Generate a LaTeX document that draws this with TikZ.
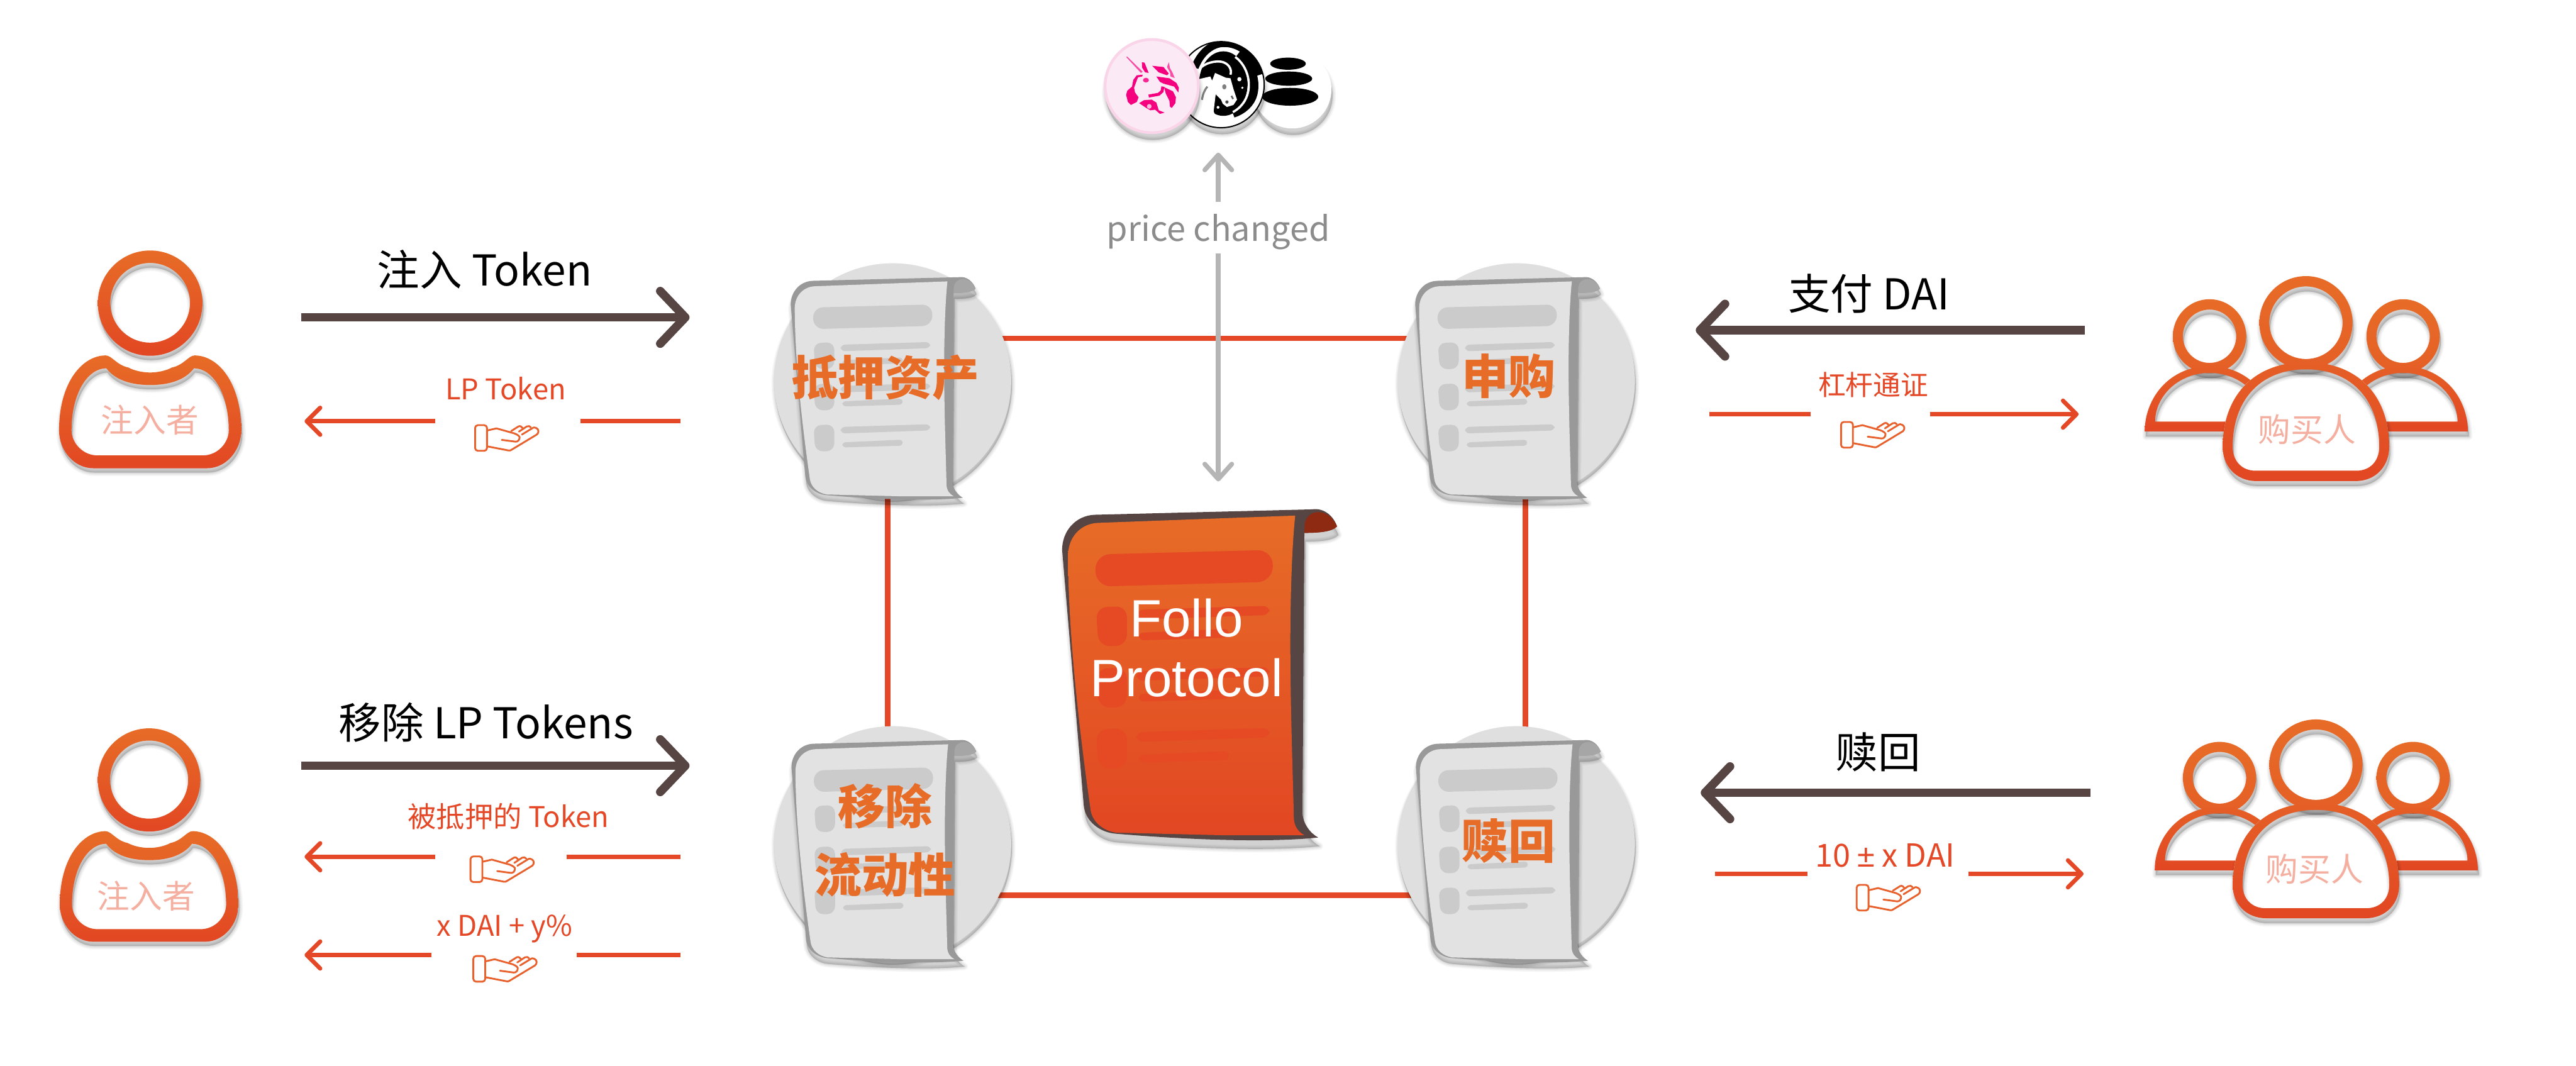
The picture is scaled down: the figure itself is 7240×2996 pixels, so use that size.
\documentclass[tikz,border=0pt]{standalone}
\usepackage{fontspec}
\usetikzlibrary{arrows.meta}
\newfontfamily\cj{Noto Sans CJK SC}
\newfontfamily\lat{Liberation Sans}
\definecolor{orT}{HTML}{E76C27}
\definecolor{orM}{HTML}{E55F26}
\definecolor{orB}{HTML}{E24723}
\definecolor{dark}{HTML}{564543}
\definecolor{lineR}{HTML}{E44826}
\definecolor{handC}{HTML}{E8602B}
\definecolor{pale}{HTML}{F5AFA0}
\definecolor{grayA}{HTML}{B5B5B5}
\definecolor{grayT}{HTML}{8C8C8C}
\definecolor{uniP}{HTML}{F5007F}
\definecolor{uniB}{HTML}{FBEAF5}
\definecolor{uniR}{HTML}{FAD4E8}
\tikzset{
  bigarrow/.style={draw=dark,line width=3.41pt,-{Straight Barb[length=10pt,width=21pt,round]}},
  thinarrow/.style={draw=lineR,line width=1.7pt,-{Straight Barb[length=5.4pt,width=10.8pt,round]}},
  thinseg/.style={draw=lineR,line width=1.7pt},
  grayarrow/.style={draw=grayA,line width=1.85pt,-{Straight Barb[length=6pt,width=10.8pt,round]}},
  link/.style={draw=lineR,line width=2.1pt},
  gaptext/.style={inner sep=0pt,outer sep=0pt},
  bigtx/.style={text=black,inner sep=0pt,font=\cj\fontsize{17}{20}\selectfont},
  smalltx/.style={text=lineR,inner sep=0pt,font=\cj\fontsize{11.4}{14}\selectfont},
  whotx/.style={text=pale,inner sep=0pt,font=\cj\fontsize{13}{16}\selectfont},
  doctx/.style={text=orT,inner sep=0pt,font=\cj\bfseries\fontsize{18.8}{22}\selectfont},
}
\newcommand\softshadow[3]{%
  \begin{scope}[shift={(#1,#2)}]
    \foreach \w/\o in {20/.035,14/.04,8/.05,2/.06}{%
      \path[even odd rule,draw=black,fill=black,line join=round,line width=\w*0.05mm,draw opacity=\o,fill opacity=\o] #3;}
  \end{scope}}
\newcommand\gapnode[4]{\node[gaptext,minimum height=0pt,minimum width=#3*0.05mm] (#1) at (#2,#4) {};}
% hand icon
\newcommand\handicon[2]{%
  \begin{scope}[shift={(#1,#2)},draw=handC,line width=.72pt,line cap=round,line join=round]
    \draw[rounded corners=1.1pt] (-87.7,-36) rectangle (-54.3,36);
    \draw (-52.7,-21.3) -- (-27.7,-27) -- (22.3,-13) .. controls (33,-9) and (38,-4) .. (37.3,-1.3)
       .. controls (37,6) and (32,11) .. (25.7,10.3) -- (-12.7,5.3);
    \draw (-52.7,23.7) -- (6,35) .. controls (9,35.8) and (12,35) .. (14,33.5) -- (85.7,-9.7)
       .. controls (92,-14) and (92,-25) .. (84,-28) .. controls (80,-30) and (77,-30) .. (75.7,-29) -- (44,-9.7);
    \draw (14,-19.7) -- (34,-32.3) .. controls (39,-35) and (43,-32) .. (45.7,-28);
    \draw (35.7,-18) -- (57.3,-32.3) .. controls (62,-35) and (67,-33) .. (69,-29.7);
  \end{scope}}
% single person
\newcommand\personfig[3]{%
  \begin{scope}[shift={(#1,#2)},scale=#3]
    \softshadow{3}{12}{(0,148) ellipse [x radius=147,y radius=148] (0,148) ellipse [x radius=112,y radius=112]}
    \shade[top color=orT,bottom color=orB,even odd rule] (0,148) ellipse [x radius=147,y radius=148] (0,147) ellipse [x radius=112,y radius=112];
    \def\bodyouter{(-125,295) .. controls (-108,295) and (-95,322) .. (-61,329) .. controls (-45,338) and (-20,343) .. (0,343) .. controls (20,343) and (45,338) .. (61,329) .. controls (95,322) and (108,295) .. (125,295) .. controls (190,295) and (256,370) .. (256,506) .. controls (256,560) and (215,612) .. (160,612) -- (-160,612) .. controls (-215,612) and (-256,560) .. (-256,506) .. controls (-256,370) and (-190,295) .. (-125,295) -- cycle}
    \def\bodyinner{(-123,331) .. controls (-105,355) and (-70,378) .. (0,378) .. controls (70,378) and (105,355) .. (123,331) .. controls (175,331) and (221,400) .. (221,506) .. controls (221,540) and (190,576) .. (148,576) -- (-148,576) .. controls (-190,576) and (-221,540) .. (-221,506) .. controls (-221,400) and (-175,331) .. (-123,331) -- cycle}
    \softshadow{3}{12}{\bodyouter \bodyinner}
    \shade[top color=orT,bottom color=orB,even odd rule] \bodyouter \bodyinner;
  \end{scope}}
% group of buyers
\newcommand\backfig[1]{%
  \begin{scope}[shift={(#1,0)}]
    \softshadow{3}{14}{(0,169) ellipse [x radius=103,y radius=104] (0,169) ellipse [x radius=75,y radius=75]}
    \shade[top color=orT,bottom color=orM,even odd rule] (0,169) ellipse [x radius=103,y radius=104] (0,169) ellipse [x radius=75,y radius=75];
    \def\bko{(-182,437) .. controls (-182,340) and (-110,253) .. (0,253) .. controls (110,253) and (182,340) .. (182,437) -- cycle}
    \def\bki{(-153,409) .. controls (-153,340) and (-90,272) .. (0,272) .. controls (90,272) and (153,340) .. (153,409) -- cycle}
    \softshadow{3}{14}{\bko \bki}
    \shade[top color=orM,bottom color=orB,even odd rule] \bko \bki;
  \end{scope}}
\newcommand\groupfig[3]{%
  \begin{scope}[shift={(#1,#2)},yscale=#3]
    \backfig{-271}
    \backfig{273}
    \def\cho{(0,242) .. controls (-150,242) and (-234,340) .. (-234,480) .. controls (-234,530) and (-200,576) .. (-139,576) -- (139,576) .. controls (200,576) and (234,530) .. (234,480) .. controls (234,340) and (150,242) .. (0,242) -- cycle}
    \def\chi{(0,262) .. controls (-130,262) and (-206,350) .. (-206,480) .. controls (-206,520) and (-180,547) .. (-142,547) -- (142,547) .. controls (180,547) and (206,520) .. (206,480) .. controls (206,350) and (130,262) .. (0,262) -- cycle}
    \fill[white] \cho;
    \softshadow{3}{14}{\cho \chi}
    \softshadow{3}{14}{(0,131) ellipse [x radius=131,y radius=131] (0,131) ellipse [x radius=103,y radius=102]}
    \shade[top color=orT,bottom color=orM,even odd rule] (0,131) ellipse [x radius=131,y radius=131] (0,131) ellipse [x radius=103,y radius=102];
    \shade[top color=orM,bottom color=orB,even odd rule] \cho \chi;
  \end{scope}}
% document
\newcommand\docbars[2]{%
  \fill[#1,rounded corners=8pt*#2] (362,322) -- (1020,305) -- (1020,423) -- (365,441) -- cycle;
  \foreach \dy in {0,227,453}{%
    \begin{scope}[shift={(0,\dy)}]
      \fill[#1,rounded corners=6pt*#2] (365,518) -- (480,513) -- (480,660) -- (375,662) -- cycle;
      \fill[#1,rounded corners=3.5pt*#2] (515,527) -- (1008,512) -- (1008,546) -- (515,563) -- cycle;
      \fill[#1,rounded corners=2.5pt*#2] (523,612) -- (857,597) -- (857,630) -- (525,640) -- cycle;
    \end{scope}}}
\newcommand\docfig[8]{%
  \begin{scope}[shift={(#1,#2)},scale=#3]
    \def\docouter{(240,305) .. controls (240,235) and (290,178) .. (360,175) -- (1165,155) .. controls (1210,148) and (1245,180) .. (1258,218) .. controls (1240,238) and (1190,242) .. (1137,242) -- (1130,1280) .. controls (1132,1320) and (1160,1355) .. (1188,1370) .. controls (1000,1390) and (700,1378) .. (440,1356) .. controls (380,1352) and (325,1310) .. (320,1250) -- cycle}
    \softshadow{5}{32}{\docouter}
    \fill[#4] \docouter;
    \path[#5] (262,320) .. controls (265,255) and (310,208) .. (372,205) -- (1103,178) .. controls (1090,300) and (1085,500) .. (1085,650) .. controls (1085,900) and (1095,1150) .. (1098,1300) .. controls (1100,1330) and (1115,1350) .. (1138,1362) -- (850,1362) -- (440,1352) .. controls (390,1345) and (350,1310) .. (345,1265) .. controls (300,950) and (262,600) .. (262,320) -- cycle;
    \fill[#6] (1138,215) .. controls (1140,180) and (1165,165) .. (1190,165) .. controls (1225,167) and (1245,190) .. (1258,218) .. controls (1240,238) and (1190,242) .. (1137,242) -- cycle;
    \docbars{#7}{#8}
  \end{scope}}
\newcommand\backdisc[2]{%
  \softshadow{2}{10}{(#1,#2) ellipse [x radius=333,y radius=330]}
  \fill[docdisc] (#1,#2) ellipse [x radius=333,y radius=330];}
\definecolor{docdisc}{HTML}{DFDFDF}
\definecolor{docedge}{HTML}{999999}
\definecolor{docsheet}{HTML}{E2E2E2}
\definecolor{docfold}{HTML}{A6A6A6}
\definecolor{docbar}{HTML}{CBCBCB}
\definecolor{bigbar}{HTML}{E54A24}
\definecolor{bigfold}{HTML}{8F2A12}
\begin{document}
\begin{tikzpicture}[x=0.05mm,y=-0.05mm]
\useasboundingbox (0,0) rectangle (7240,2996);
\fill[white] (0,0) rectangle (7240,2996);

% logos
\softshadow{3}{18}{(3632,251) circle [radius=110]}
\fill[white] (3632,251) circle [radius=110];
\fill[black] (3620,179) ellipse [x radius=50,y radius=17];
\fill[black] (3622,221) ellipse [x radius=66,y radius=20];
\fill[black] (3626,272) ellipse [x radius=79,y radius=25];
\softshadow{3}{18}{(3432,238) circle [radius=121]}
\fill[white] (3432,238) circle [radius=121];
\begin{scope}
  \clip (3432,238) circle [radius=121];
  \begin{scope}[shift={(3335,110)},scale=.3333]
    \fill[black] (310,375) ellipse [x radius=205,y radius=272];
    \draw[black,line width=3pt] (70,240) .. controls (130,80) and (250,30) .. (320,35) .. controls (450,35) and (570,130) .. (620,300);
    \draw[black,line width=3.6pt] (430,130) .. controls (530,200) and (590,330) .. (560,460) .. controls (540,540) and (470,600) .. (390,625);
    \fill[white] (90,340) -- (200,315) -- (215,350) -- (240,285) -- (330,325) -- (370,330) -- (395,420) -- (425,510) -- (395,555) -- (340,572) -- (305,545) -- (290,510) -- (245,465) -- (228,610) -- (260,680) -- (40,720) -- (20,500) -- cycle;
    \draw[white,line width=.9pt] (410,150) .. controls (520,230) and (560,400) .. (490,520) .. controls (460,570) and (420,600) .. (390,615);
    \draw[white,line width=.9pt] (100,270) .. controls (120,215) and (220,180) .. (290,190) .. controls (350,200) and (385,250) .. (370,300);
    \fill[white] (445,338) circle [radius=18] (470,410) circle [radius=10] (265,575) circle [radius=12];
    \fill[gray] (318,402) ellipse [x radius=18,y radius=22];
    \fill[black!70] (340,530) circle [radius=14];
    \draw[black!60,line width=.7pt] (378,478) -- (392,505);
    \draw[gray,line width=.8pt] (175,400) .. controls (150,430) and (135,470) .. (130,512);
  \end{scope}
\end{scope}
\draw[black,line width=.5pt] (3432,238) circle [radius=121];
\softshadow{3}{18}{(3237,242) circle [radius=133]}
\fill[uniB,draw=uniR,line width=1.1pt] (3237,242) circle [radius=131];
\begin{scope}[shift={(3100,100)},scale=.3333]
  \fill[uniP!70] (195,180) -- (205,178) -- (335,305) -- (320,315) -- cycle;
  \fill[uniP] (328,225) -- (350,228) -- (385,315) -- (355,310) -- (330,270) -- cycle;
  \fill[uniP] (415,255) -- (510,265) -- (555,320) -- (540,335) -- (470,310) -- cycle;
  \fill[uniP!70] (555,225) -- (565,275) -- (585,310) -- (605,358) -- (570,345) -- (565,310) -- (540,265) -- cycle;
  \fill[uniP] (450,345) -- (560,360) -- (620,400) -- (640,440) -- (635,480) -- (600,430) -- (510,405) -- (480,390) -- cycle;
  \fill[uniP] (515,435) -- (590,470) -- (615,520) -- (610,570) -- (580,610) -- (565,600) -- (560,550) -- (530,490) -- cycle;
  \fill[uniP] (255,375) -- (285,335) -- (335,330) -- (330,345) -- (295,352) -- (262,440) -- (270,480) -- (300,520) -- (285,560) -- (235,585) -- (210,560) -- (195,500) -- (205,465) -- (245,430) -- cycle;
  \fill[uniP!85] (362,376) ellipse [x radius=25,y radius=20];
  \draw[uniP,line width=1.2pt] (385,510) -- (470,495) -- (498,470) -- (505,430);
  \fill[uniP] (305,570) -- (345,545) -- (410,540) -- (450,565) -- (470,630) -- (520,650) -- (480,660) -- (440,625) -- (400,630) -- (365,610) -- cycle;
  \fill[uniB!80!uniP] (390,597) circle [radius=20];
\end{scope}

% square of links
\coordinate (sqTL) at (2495,951);
\coordinate (sqTR) at (4287,951);
\coordinate (sqBR) at (4287,2516);
\coordinate (sqBL) at (2495,2516);
\draw[link] (sqTL) -- (sqTR) -- (sqBR) -- (sqBL) -- cycle;

% price arrow
\node[inner sep=0pt,outer sep=0pt,minimum height=145*0.05mm,text=grayT,font=\cj\fontsize{13.6}{16}\selectfont] (pc) at (3424,640) {\smash{\raisebox{-1.9mm}{price changed}}};
\coordinate (pcUp) at (3424,429);
\coordinate (pcDown) at (3424,1353);
\draw[grayarrow] (pc.north) -- (pcUp);
\draw[grayarrow] (pc.south) -- (pcDown);

% documents
\backdisc{2509}{1070}
\backdisc{4262}{1070}
\backdisc{2509}{2371}
\backdisc{4262}{2371}
\docfig{2100}{700}{.5102}{docedge}{fill=docsheet}{docfold}{docbar}{.5102}
\docfig{3855}{700}{.5102}{docedge}{fill=docsheet}{docfold}{docbar}{.5102}
\docfig{2102}{2001}{.5102}{docedge}{fill=docsheet}{docfold}{docbar}{.5102}
\docfig{3857}{2001}{.5102}{docedge}{fill=docsheet}{docfold}{docbar}{.5102}
\node[doctx] (d1) at (2488,1062) {抵押资产};
\node[doctx] (d2) at (4240,1057) {申购};
\node[doctx] (d3a) at (2488,2266) {移除};
\node[doctx] (d3b) at (2488,2458) {流动性};
\node[doctx] (d4) at (4239,2363) {赎回};

% central document
\docfig{2803}{1314}{.759}{dark}{top color=orT,bottom color=orB}{bigfold}{bigbar}{.759}
\node[text=white,inner sep=0pt,align=center,font=\lat\fontsize{21}{24}\selectfont] (follo) at (3335,1821) {Follo\\Protocol};

% people
\personfig{422}{704}{1}
\personfig{419}{2047}{.98}
\node[whotx] (w1) at (421,1180) {注入者};
\node[whotx] (w2) at (411,2519) {注入者};
\groupfig{6481}{776}{1}
\groupfig{6509}{2022}{.97}
\node[whotx] (w3) at (6484,1207) {购买人};
\node[whotx] (w4) at (6505,2442) {购买人};

% top-left flows
\node[bigtx] (t1) at (1362,757) {注入 Token};
\coordinate (a1s) at (846,892);
\coordinate (a1e) at (1938,892);
\draw[bigarrow] (a1s) -- (a1e);
\node[smalltx] (t2) at (1421,1092) {LP Token};
\gapnode{g1}{1428}{408}{1184}
\coordinate (a2e) at (856,1184);
\coordinate (a2f) at (1912,1184);
\draw[thinarrow] (g1.west) -- (a2e);
\draw[thinseg] (g1.east) -- (a2f);
\handicon{1423}{1231}

% bottom-left flows
\node[bigtx] (t3) at (1366,2030) {移除 LP Tokens};
\coordinate (a3s) at (846,2152);
\coordinate (a3e) at (1938,2152);
\draw[bigarrow] (a3s) -- (a3e);
\node[smalltx] (t4) at (1429,2294) {被抵押的 Token};
\gapnode{g2}{1408}{368}{2408}
\coordinate (a4e) at (856,2408);
\coordinate (a4f) at (1912,2408);
\draw[thinarrow] (g2.west) -- (a4e);
\draw[thinseg] (g2.east) -- (a4f);
\handicon{1410}{2443}
\node[smalltx] (t5) at (1418,2610) {x DAI + y\%};
\gapnode{g3}{1416}{408}{2684}
\coordinate (a5e) at (856,2684);
\coordinate (a5f) at (1912,2684);
\draw[thinarrow] (g3.west) -- (a5e);
\draw[thinseg] (g3.east) -- (a5f);
\handicon{1418}{2723}

% top-right flows
\node[bigtx] (t6) at (5253,826) {支付 DAI};
\coordinate (a6s) at (5860,928);
\coordinate (a6e) at (4766,928);
\draw[bigarrow] (a6s) -- (a6e);
\node[smalltx,font=\cj\fontsize{11}{14}\selectfont] (t7) at (5265,1081) {杠杆通证};
\gapnode{g4}{5256.5}{335}{1164}
\coordinate (a7s) at (4804,1164);
\coordinate (a7e) at (5842,1164);
\draw[thinseg] (g4.west) -- (a7s);
\draw[thinarrow] (g4.east) -- (a7e);
\handicon{5262}{1222}

% bottom-right flows
\node[bigtx] (t8) at (5278,2114) {赎回};
\coordinate (a8s) at (5876,2228);
\coordinate (a8e) at (4780,2228);
\draw[bigarrow] (a8s) -- (a8e);
\node[smalltx,font=\cj\fontsize{12.7}{15}\selectfont] (t9) at (5298,2404) {10 {\lat ±} x DAI};
\gapnode{g5}{5306}{452}{2456}
\coordinate (a9s) at (4820,2456);
\coordinate (a9e) at (5856,2456);
\draw[thinseg] (g5.west) -- (a9s);
\draw[thinarrow] (g5.east) -- (a9e);
\handicon{5306}{2523}
\end{tikzpicture}
\end{document}
